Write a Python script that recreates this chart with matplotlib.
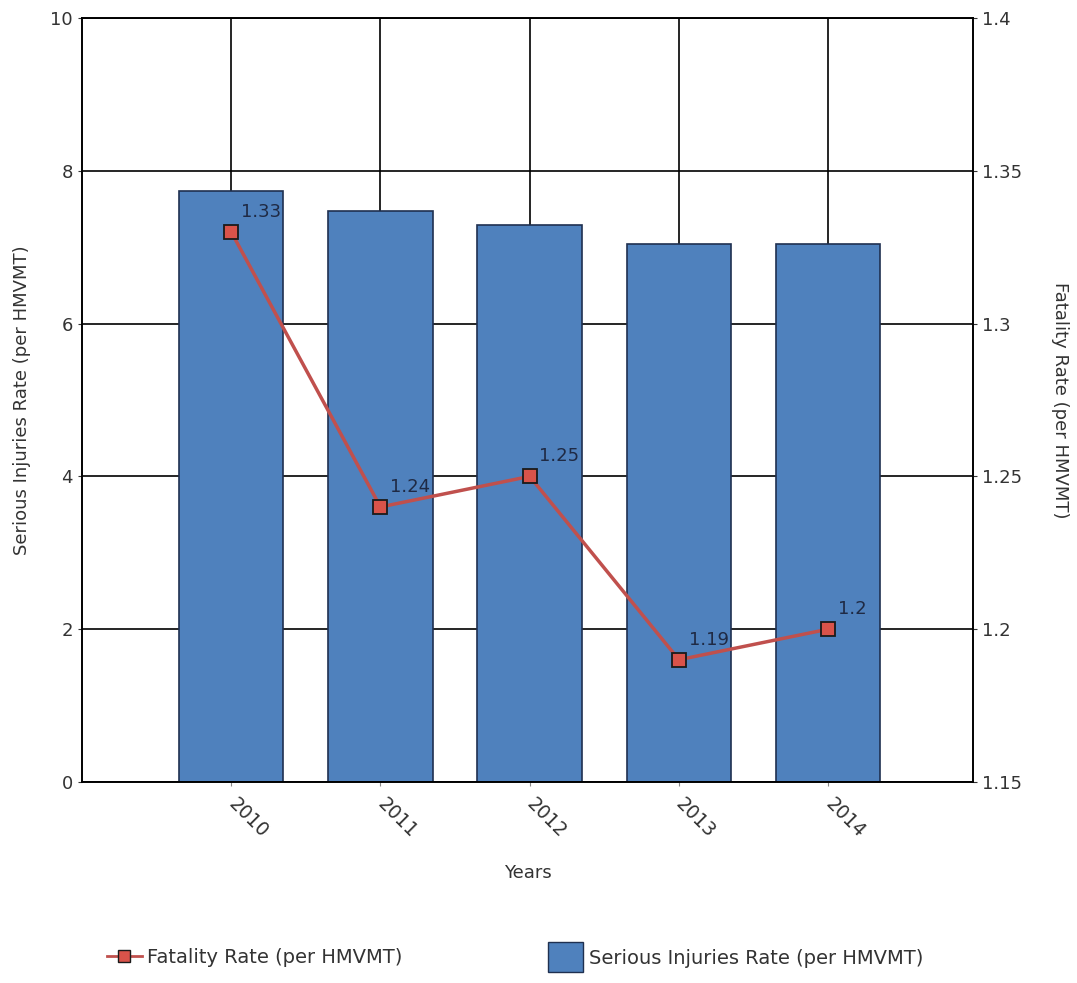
import matplotlib
matplotlib.use("Agg")
import matplotlib.pyplot as plt
from matplotlib.lines import Line2D
from matplotlib.patches import Patch

years = ["2010", "2011", "2012", "2013", "2014"]
serious_injuries = [7.74, 7.48, 7.29, 7.04, 7.04]
fatality = [1.33, 1.24, 1.25, 1.19, 1.20]
fatality_labels = ["1.33", "1.24", "1.25", "1.19", "1.2"]

bar_color = "#4f81bd"
line_color = "#c0504d"
text_color = "#333333"

plt.rcParams['font.family'] = ['DejaVu Sans']
plt.rcParams['font.size'] = 13

fig = plt.figure(figsize=(10.77, 9.83), dpi=100)
ax = fig.add_axes([0.0761, 0.2045, 0.8273, 0.7772])
ax2 = ax.twinx()

x = list(range(len(years)))

# bars
ax.set_axisbelow(True)
ax.bar(x, serious_injuries, width=0.7, color=bar_color, edgecolor="#1f3050", linewidth=1.2, zorder=2)
ax.set_xlim(-1, 4.97)
ax.set_ylim(0, 10)
ax.set_yticks([0, 2, 4, 6, 8, 10])
ax.set_xticks(x)
ax.set_xticklabels(years, rotation=-45, ha="left", va="center", rotation_mode="anchor",
                   color=text_color, fontsize=13.5)
ax.grid(True, color="black", linewidth=1.2, zorder=0)
ax.tick_params(axis="y", colors=text_color, labelsize=13, length=3)
ax.tick_params(axis="x", length=3, color="#888888", pad=11)
ax.set_ylabel("Serious Injuries Rate (per HMVMT)", color=text_color, fontsize=13, labelpad=14)
ax.set_xlabel("Years", color=text_color, fontsize=13, labelpad=16)

# line on right axis
ax2.plot(x, fatality, color=line_color, linewidth=2.5, marker="s", markersize=10,
         markerfacecolor="#d9534a", markeredgecolor="#1a1a1a", markeredgewidth=1.3, zorder=5)
for xi, v, lab in zip(x, fatality, fatality_labels):
    ax2.annotate(lab, (xi, v), xytext=(7, 8), textcoords="offset points",
                 ha="left", va="bottom", color="#1f2a44", fontsize=13)
ax2.set_ylim(1.15, 1.4)
ax2.set_yticks([1.15, 1.2, 1.25, 1.3, 1.35, 1.4])
ax2.set_yticklabels(["1.15", "1.2", "1.25", "1.3", "1.35", "1.4"])
ax2.tick_params(axis="y", colors=text_color, labelsize=13, length=3)
ax2.set_ylabel("Fatality Rate (per HMVMT)", color=text_color, fontsize=13, rotation=270, labelpad=34)

for a in (ax, ax2):
    for s in a.spines.values():
        s.set_color("black")
        s.set_linewidth(1.2)

line_handle = Line2D([0], [0], color=line_color, linewidth=2, marker="s", markersize=9,
                     markerfacecolor="#d9534a", markeredgecolor="#1a1a1a")
bar_handle = Patch(facecolor=bar_color, edgecolor="#1f3050")

fig.legend([line_handle], ["Fatality Rate (per HMVMT)"], loc="center left",
           bbox_to_anchor=(0.099, 0.026), frameon=False, fontsize=14,
           handlelength=1.8, handletextpad=0.3, labelcolor=text_color,
           borderaxespad=0, borderpad=0)
fig.legend([bar_handle], ["Serious Injuries Rate (per HMVMT)"], loc="center left",
           bbox_to_anchor=(0.509, 0.026), frameon=False, fontsize=14,
           handlelength=1.8, handleheight=2.0, handletextpad=0.3, labelcolor=text_color,
           borderaxespad=0, borderpad=0)

fig.savefig("out.png", dpi=100)
